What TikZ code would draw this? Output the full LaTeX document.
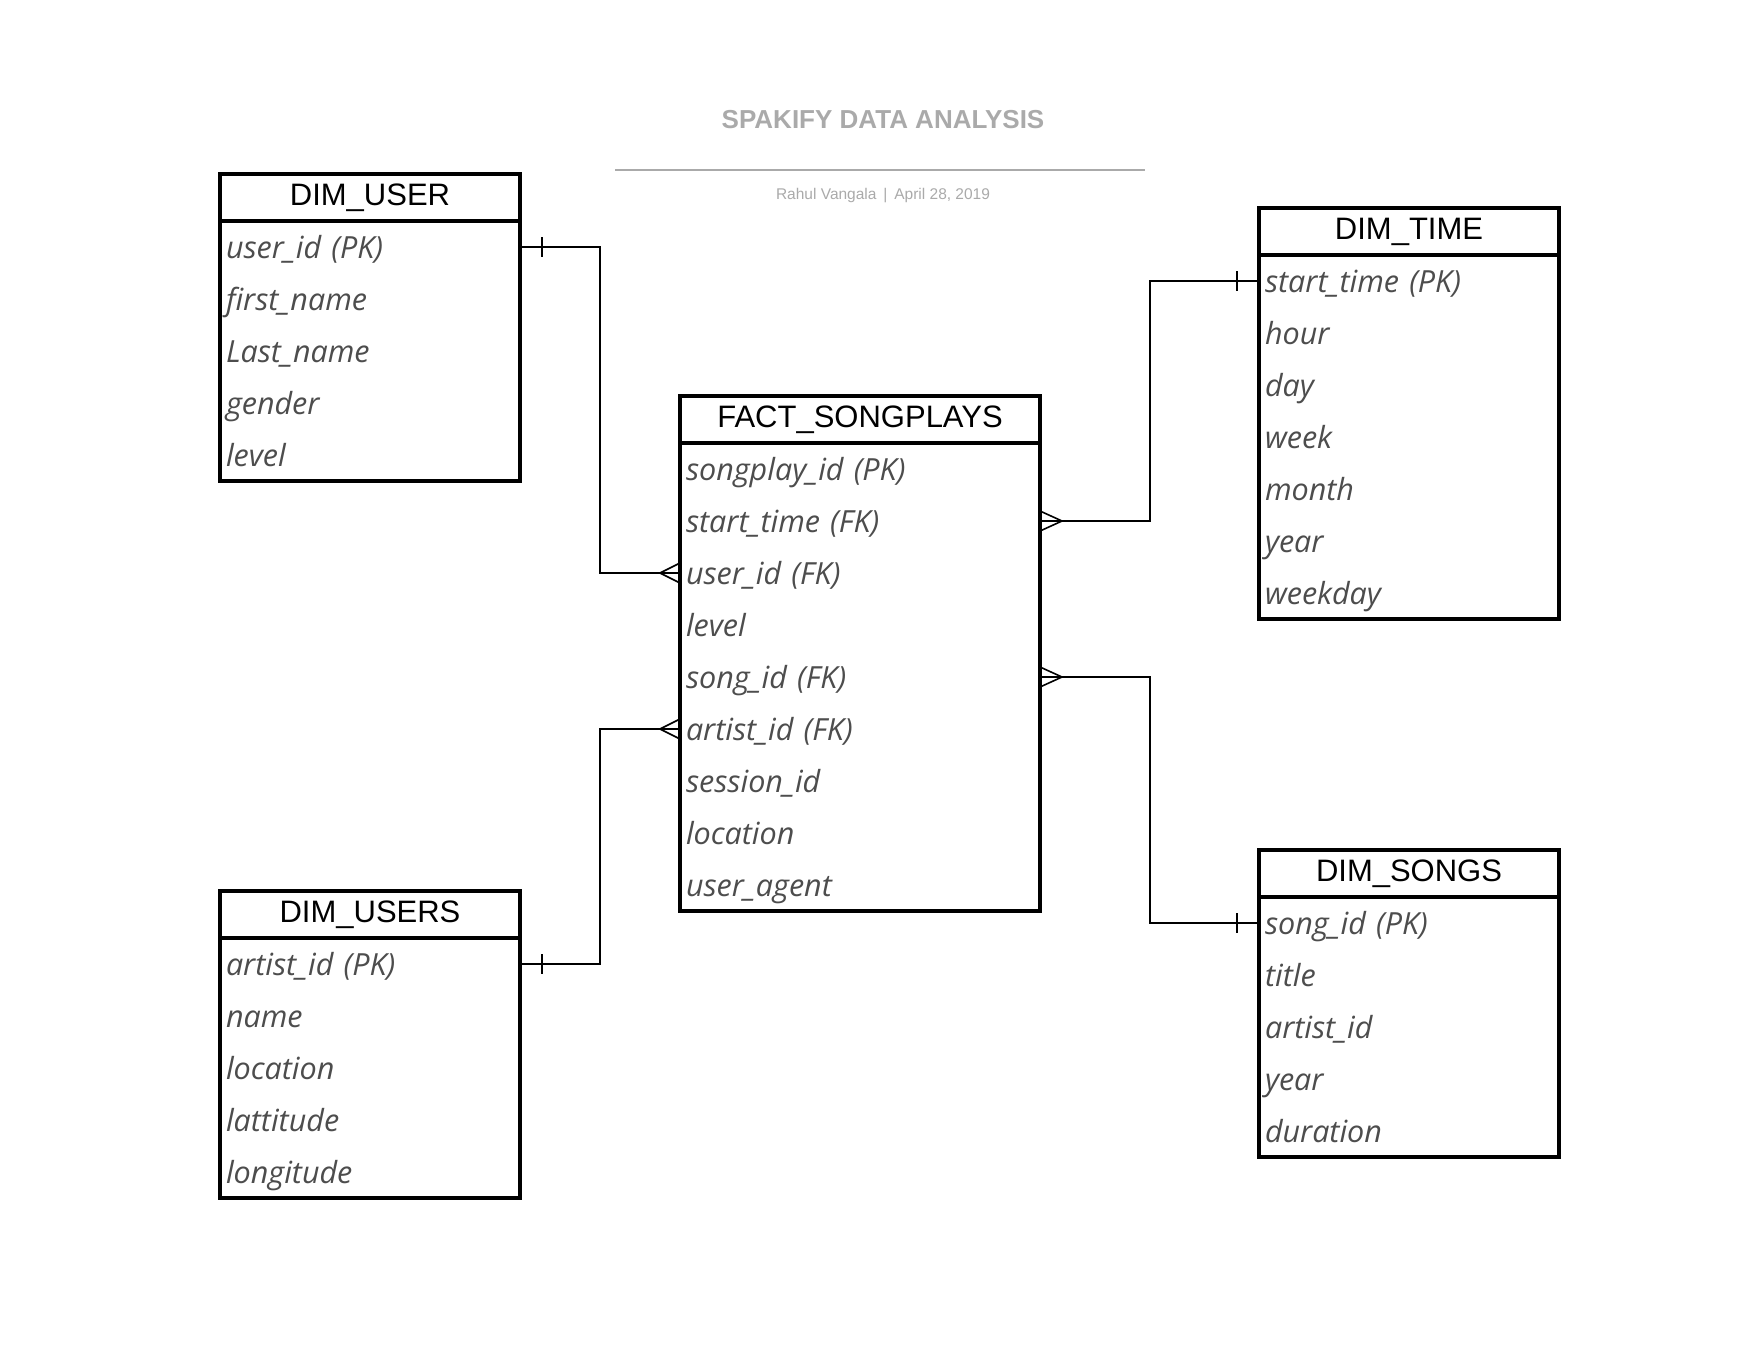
\documentclass[tikz,border=0pt]{standalone}
\usepackage{fontspec}
\setmainfont{Liberation Sans}
\newfontfamily\attrfont{Open Sans}
\usetikzlibrary{positioning}
\definecolor{attrgray}{HTML}{4D4D4D}
\definecolor{titlegray}{HTML}{AAAAAA}
\tikzset{
  hdr/.style={minimum width=300pt, minimum height=47pt, inner sep=0pt, outer sep=0pt,
    font=\fontsize{31}{32}\selectfont},
  row/.style={minimum height=52pt, inner xsep=6pt, inner ysep=0pt, outer sep=0pt,
    text width=288pt, align=left, text height=24pt, text depth=2pt, text=attrgray,
    font=\attrfont\itshape\fontsize{30.5}{32}\selectfont},
  wide/.style={text width=348pt, minimum width=360pt},
  tbl/.style={line width=3.5pt},
  link/.style={line width=1.6pt}
}

\begin{document}
\begin{tikzpicture}[x=1pt, y=-1pt]
	\useasboundingbox[fill=white] (0,0) rectangle (1760,1360);
	% title
	\node[font=\bfseries\fontsize{26}{28}\selectfont, text=titlegray] (title) at (883,120) {SPAKIFY DATA ANALYSIS};
	\draw[titlegray, line width=2pt] (615,170) -- (1145,170);
	\node[font=\fontsize{15.5}{17}\selectfont, text=titlegray] (byline) at (883,196) {Rahul Vangala \,|\, April 28, 2019};

	% DIM_USER
	\node[hdr] (uh) at (370,197.5) {DIM\_USER};
	\foreach \t [count=\i] in {user\_id (PK), first\_name, Last\_name, gender, level}
		\node[row] (u\i) at (370,195+52*\i) {\t};
	\draw[tbl] (uh.north west) rectangle (u5.south east);
	\draw[tbl] (uh.south west) -- (uh.south east);

	% FACT_SONGPLAYS
	\node[hdr, minimum width=360pt] (fh) at (860,419.5) {FACT\_SONGPLAYS};
	\foreach \t [count=\i] in {songplay\_id (PK), start\_time (FK), user\_id (FK), level, song\_id (FK), artist\_id (FK), session\_id, location, user\_agent}
		\node[row, wide] (f\i) at (860,417+52*\i) {\t};
	\draw[tbl] (fh.north west) rectangle (f9.south east);
	\draw[tbl] (fh.south west) -- (fh.south east);

	% DIM_TIME
	\node[hdr] (th) at (1409,231.5) {DIM\_TIME};
	\foreach \t [count=\i] in {start\_time (PK), hour, day, week, month, year, weekday}
		\node[row] (t\i) at (1409,229+52*\i) {\t};
	\draw[tbl] (th.north west) rectangle (t7.south east);
	\draw[tbl] (th.south west) -- (th.south east);

	% DIM_USERS
	\node[hdr] (ah) at (370,914.5) {DIM\_USERS};
	\foreach \t [count=\i] in {artist\_id (PK), name, location, lattitude, longitude}
		\node[row] (a\i) at (370,912+52*\i) {\t};
	\draw[tbl] (ah.north west) rectangle (a5.south east);
	\draw[tbl] (ah.south west) -- (ah.south east);

	% DIM_SONGS
	\node[hdr] (sh) at (1409,873.5) {DIM\_SONGS};
	\foreach \t [count=\i] in {song\_id (PK), title, artist\_id, year, duration}
		\node[row] (s\i) at (1409,871+52*\i) {\t};
	\draw[tbl] (sh.north west) rectangle (s5.south east);
	\draw[tbl] (sh.south west) -- (sh.south east);

	% relations
	\draw[link] (u1.east) -- ++(80,0) |- (f3.west);
	\draw[link] (u1.east) ++(22,-10) -- ++(0,20);
	\draw[link] (f3.west) ++(0,-10) -- ++(-20,10) -- ++(20,10);

	\draw[link] (a1.east) -- ++(80,0) |- (f6.west);
	\draw[link] (a1.east) ++(22,-10) -- ++(0,20);
	\draw[link] (f6.west) ++(0,-10) -- ++(-20,10) -- ++(20,10);

	\draw[link] (f2.east) -- ++(110,0) |- (t1.west);
	\draw[link] (f2.east) ++(0,-10) -- ++(22,10) -- ++(-22,10);
	\draw[link] (t1.west) ++(-22,-10) -- ++(0,20);

	\draw[link] (f5.east) -- ++(110,0) |- (s1.west);
	\draw[link] (f5.east) ++(0,-10) -- ++(22,10) -- ++(-22,10);
	\draw[link] (s1.west) ++(-22,-10) -- ++(0,20);
\end{tikzpicture}
\end{document}
